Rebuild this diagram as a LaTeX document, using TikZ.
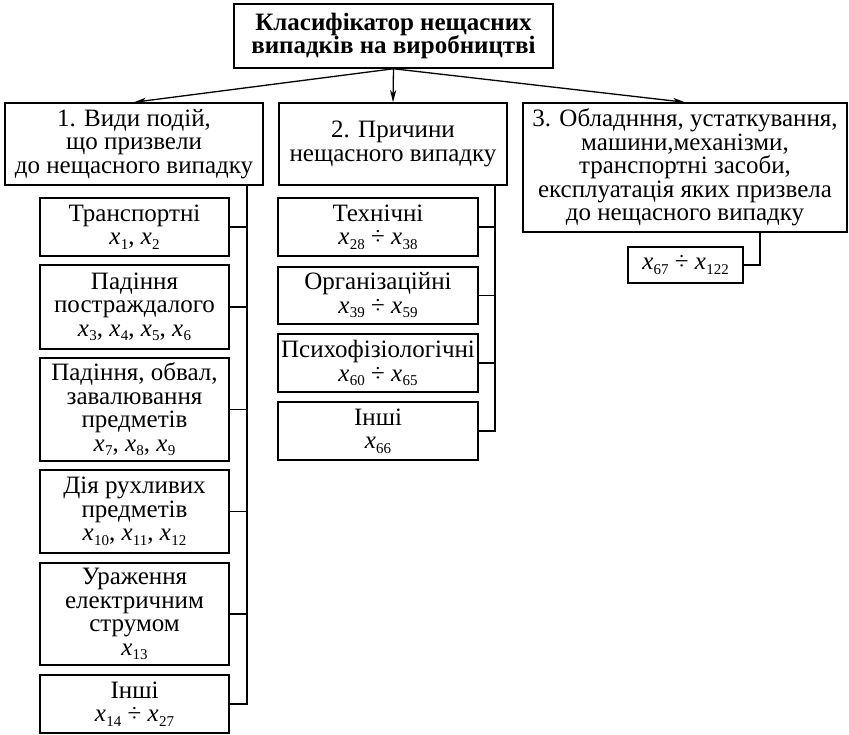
\documentclass[tikz,border=0pt]{standalone}
\usepackage{fontspec}
\setmainfont{Liberation Serif}
\usetikzlibrary{arrows.meta,positioning}
\newcommand{\xv}[1]{\textit{x}\kern0.3pt\raisebox{-4.5pt}{\fontsize{15}{15}\selectfont#1}}
\newcommand{\boxfont}{\fontsize{25}{23.5}\selectfont\lineskiplimit=-30pt\relax}
\newcommand{\headfont}{\fontsize{25}{23.5}\selectfont\bfseries\lineskiplimit=-30pt\relax}
\tikzset{
  wire/.style={black,line width=1.5pt},
  flow/.style={-{Stealth[length=12pt,width=6pt,inset=3pt]},line width=1.3pt},
  box/.style={draw=black,line width=1.5pt,inner sep=0pt,align=center,font=\boxfont},
  head/.style={box,font=\headfont},
  kind/.style={box,minimum width=189pt},
  cause/.style={box,minimum width=200pt},
}

\begin{document}
\begin{tikzpicture}[x=1pt,y=-1pt]
  \path[use as bounding box] (0,0) rectangle (849,734);
  \node[head,minimum width=319pt,minimum height=64pt] (top) at (393.5,36)
    {Класифікатор нещасних\\випадків на виробництві};

  \node[box,minimum width=258pt,minimum height=82pt] (g1) at (134,144)
    {1. Види подій,\\що призвели\\до нещасного випадку};
  \node[box,minimum width=228pt,minimum height=82pt] (g2) at (393,144)
    {2. Причини\\нещасного випадку};
  \node[box,minimum width=324pt,minimum height=129pt] (g3) at (685,167.5)
    {3. Обладнння, устаткування,\\машини,механізми,\\транспортні засоби,\\експлуатація яких призвела\\до нещасного випадку};

  \node[kind,minimum height=58pt] (k1) at (134.5,227) {Транспортні\\\xv{1}, \xv{2}};
  \node[kind,minimum height=84pt] (k2) at (134.5,307)
    {Падіння\\постраждалого\\\xv{3}, \xv{4}, \xv{5}, \xv{6}};
  \node[kind,minimum height=103pt] (k3) at (134.5,409.5)
    {Падіння, обвал,\\завалювання\\предметів\\\xv{7}, \xv{8}, \xv{9}};
  \node[kind,minimum height=83pt] (k4) at (134.5,511.5)
    {Дія рухливих\\предметів\\\xv{10}, \xv{11}, \xv{12}};
  \node[kind,minimum height=102pt] (k5) at (134.5,614)
    {Ураження\\електричним\\струмом\\\xv{13}};
  \node[kind,minimum height=58pt] (k6) at (134.5,704) {Інші\\\xv{14} ÷ \xv{27}};

  \node[cause,minimum height=58pt] (c1) at (378,227) {Технічні\\\xv{28} ÷ \xv{38}};
  \node[cause,minimum height=57pt] (c2) at (378,295.5) {Організаційні\\\xv{39} ÷ \xv{59}};
  \node[cause,minimum height=58pt] (c3) at (378,363) {Психофізіологічні\\\xv{60} ÷ \xv{65}};
  \node[cause,minimum height=58pt] (c4) at (378,431) {Інші\\\xv{66}};

  \node[box,minimum width=115pt,minimum height=36pt] (e1) at (685.5,265) {\xv{67} ÷ \xv{122}};

  \draw[flow] (top.south) -- (g1.north);
  \draw[flow] (top.south) -- (g2.north);
  \draw[flow] (top.south) -- (g3.north);

  \coordinate (t1) at (247,185);
  \coordinate (t2) at (495,185);
  \coordinate (t3) at (760,232);
  \draw[wire] (t1) |- (k6.east);
  \foreach \k in {k1,k2,k3,k4,k5}
    \draw[wire] (\k.east) -- (\k.east -| t1);
  \draw[wire] (t2) |- (c4.east);
  \foreach \c in {c1,c2,c3}
    \draw[wire] (\c.east) -- (\c.east -| t2);
  \draw[wire] (t3) |- (e1.east);
\end{tikzpicture}
\end{document}
